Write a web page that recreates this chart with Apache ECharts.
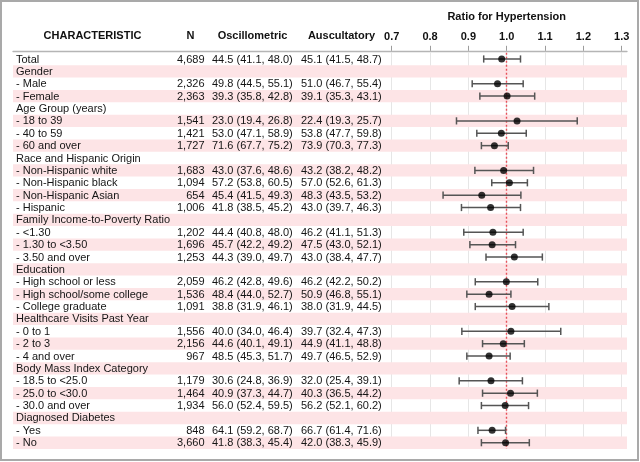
<!DOCTYPE html>
<html><head><meta charset="utf-8">
<script src="https://cdn.jsdelivr.net/npm/echarts@6/dist/echarts.min.js"></script>
<style>html,body{margin:0;padding:0;background:#fff}#c{width:640px;height:462px}</style>
</head><body><div id="c"></div>
<script>
// ---------- data ----------
const labels = ['Total','Gender','- Male','- Female','Age Group (years)','- 18 to 39','- 40 to 59','- 60 and over',
 'Race and Hispanic Origin','- Non-Hispanic white','- Non-Hispanic black','- Non-Hispanic Asian','- Hispanic',
 'Family Income-to-Poverty Ratio','- <1.30','- 1.30 to <3.50','- 3.50 and over',
 'Education','- High school or less','- High school/some college','- College graduate',
 'Healthcare Visits Past Year','- 0 to 1','- 2 to 3','- 4 and over',
 'Body Mass Index Category','- 18.5 to <25.0','- 25.0 to <30.0','- 30.0 and over',
 'Diagnosed Diabetes','- Yes','- No'];
const nVals = ['4,689',null,'2,326','2,363',null,'1,541','1,421','1,727',null,'1,683','1,094','654','1,006',
 null,'1,202','1,696','1,253',null,'2,059','1,536','1,091',null,'1,556','2,156','967',null,'1,179','1,464','1,934',null,'848','3,660'];
const oscEst = [44.5,null,49.8,39.3,null,23.0,53.0,71.6,null,43.0,57.2,45.4,41.8,null,44.4,45.7,44.3,null,46.2,48.4,38.8,null,40.0,44.6,48.5,null,30.6,40.9,56.0,null,64.1,41.8];
const oscLo  = [41.1,null,44.5,35.8,null,19.4,47.1,67.7,null,37.6,53.8,41.5,38.5,null,40.8,42.2,39.0,null,42.8,44.0,31.9,null,34.0,40.1,45.3,null,24.8,37.3,52.4,null,59.2,38.3];
const oscHi  = [48.0,null,55.1,42.8,null,26.8,58.9,75.2,null,48.6,60.5,49.3,45.2,null,48.0,49.2,49.7,null,49.6,52.7,46.1,null,46.4,49.1,51.7,null,36.9,44.7,59.5,null,68.7,45.4];
const ausEst = [45.1,null,51.0,39.1,null,22.4,53.8,73.9,null,43.2,57.0,48.3,43.0,null,46.2,47.5,43.0,null,46.2,50.9,38.0,null,39.7,44.9,49.7,null,32.0,40.3,56.2,null,66.7,42.0];
const ausLo  = [41.5,null,46.7,35.3,null,19.3,47.7,70.3,null,38.2,52.6,43.5,39.7,null,41.1,43.0,38.4,null,42.2,46.8,31.9,null,32.4,41.1,46.5,null,25.4,36.5,52.1,null,61.4,38.3];
const ausHi  = [48.7,null,55.4,43.1,null,25.7,59.8,77.3,null,48.2,61.3,53.2,46.3,null,51.3,52.1,47.7,null,50.2,55.1,44.5,null,47.3,48.8,52.9,null,39.1,44.2,60.2,null,71.6,45.9];
const ratioEst = [0.987,null,0.976,1.001,null,1.027,0.986,0.968,null,0.992,1.007,0.935,0.958,null,0.964,0.962,1.020,null,0.999,0.954,1.014,null,1.011,0.991,0.954,null,0.959,1.010,0.996,null,0.962,0.997];
const ratioLo  = [0.940,null,0.910,0.930,null,0.869,0.922,0.934,null,0.917,0.961,0.834,0.882,null,0.888,0.904,0.946,null,0.918,0.896,0.918,null,0.883,0.937,0.896,null,0.876,0.937,0.934,null,0.925,0.934];
const ratioHi  = [1.036,null,1.043,1.073,null,1.184,1.051,1.004,null,1.070,1.054,1.037,1.036,null,1.043,1.023,1.093,null,1.081,1.011,1.110,null,1.141,1.046,1.009,null,1.041,1.080,1.057,null,0.997,1.059];
const xTicks = [0.7,0.8,0.9,1.0,1.1,1.2,1.3];
const headers = ['CHARACTERISTIC','N','Oscillometric','Auscultatory'];
const axisTitle = 'Ratio for Hypertension';

// ---------- layout / style ----------
const FONT = '"Liberation Sans", Arial, sans-serif';
const TOP = 52.8, BOTTOM = 13.12;
const COL = { label: 16, nRight: 204.5, osc: 212, aus: 301 };
const idx = labels.map((_, i) => i);
const fmt = (e, l, h) => e == null ? '' : e.toFixed(1) + ' (' + l.toFixed(1) + ', ' + h.toFixed(1) + ')';
const colText = [
  { x: COL.label, align: 'left', get: i => labels[i] },
  { x: COL.nRight, align: 'right', get: i => nVals[i] || '' },
  { x: COL.osc, align: 'left', get: i => fmt(oscEst[i], oscLo[i], oscHi[i]) },
  { x: COL.aus, align: 'left', get: i => fmt(ausEst[i], ausLo[i], ausHi[i]) }
];

const textSeries = colText.map(c => ({
  type: 'custom', xAxisIndex: 0, yAxisIndex: 0, silent: true, z: 5,
  data: idx.map(i => [c.x, i]),
  renderItem: (params, api) => {
    const p = api.coord([api.value(0), api.value(1)]);
    return { type: 'text', x: p[0], y: p[1] + 0.5,
      style: { text: c.get(params.dataIndex), fill: '#151515', font: '11px ' + FONT, align: c.align, verticalAlign: 'middle' } };
  }
}));

const barData = [], ptData = [];
idx.forEach(i => { if (ratioEst[i] != null) { barData.push([ratioLo[i], ratioHi[i], i]); ptData.push([ratioEst[i], i]); } });

const hdr = (text, x, y) => ({ type: 'text', x, y, style: { text, font: 'bold 11px ' + FONT, fill: '#111', align: 'center', verticalAlign: 'middle' } });

const option = {
  animation: false,
  grid: [
    { left: 13, right: 13, top: TOP, bottom: BOTTOM },
    { left: 391.7, right: 18.3, top: TOP, bottom: BOTTOM }
  ],
  xAxis: [
    { gridIndex: 0, type: 'value', min: 13, max: 627, position: 'top', offset: 2,
      axisLine: { show: true, lineStyle: { color: '#b5b5b5', width: 1.3 } },
      axisTick: { show: false }, axisLabel: { show: false }, splitLine: { show: false } },
    { gridIndex: 1, type: 'value', min: xTicks[0], max: xTicks[xTicks.length - 1], interval: 0.1, position: 'top', offset: 2,
      axisLine: { show: false },
      axisTick: { show: true, length: 5, lineStyle: { color: '#9c9c9c', width: 1 } },
      axisLabel: { show: true, margin: 8, fontFamily: FONT, fontSize: 11, fontWeight: 'bold', color: '#111',
        formatter: v => v.toFixed(1) },
      splitLine: { show: true, lineStyle: { color: '#e6e6e6', width: 1 } } }
  ],
  yAxis: [
    { gridIndex: 0, type: 'category', inverse: true, data: idx, show: false },
    { gridIndex: 1, type: 'category', inverse: true, data: idx, show: false }
  ],
  graphic: [
    hdr(headers[0], 92.5, 36), hdr(headers[1], 190.5, 36), hdr(headers[2], 252.5, 36), hdr(headers[3], 341.5, 36),
    hdr(axisTitle, 506.7, 17),
    { type: 'rect', shape: { x: 1, y: 1, width: 637, height: 459 }, style: { fill: 'none', stroke: '#a9a9a9', lineWidth: 2 }, silent: true, z: 100 }
  ],
  series: [
    { type: 'bar', xAxisIndex: 0, yAxisIndex: 0, silent: true, z: 0, barCategoryGap: '0%', clip: true,
      itemStyle: { color: '#fde4e6' },
      data: idx.map(i => i % 2 === 1 ? 627 : '-') },
    ...textSeries,
    { type: 'custom', xAxisIndex: 1, yAxisIndex: 1, silent: true, z: 6,
      encode: { x: [0, 1], y: 2 }, data: barData,
      renderItem: (params, api) => {
        const a = api.coord([api.value(0), api.value(2)]);
        const b = api.coord([api.value(1), api.value(2)]);
        const st = { stroke: '#555', lineWidth: 1.5 };
        return { type: 'group', children: [
          { type: 'line', shape: { x1: a[0], y1: a[1], x2: b[0], y2: b[1] }, style: st },
          { type: 'line', shape: { x1: a[0], y1: a[1] - 3.6, x2: a[0], y2: a[1] + 3.6 }, style: st },
          { type: 'line', shape: { x1: b[0], y1: b[1] - 3.6, x2: b[0], y2: b[1] + 3.6 }, style: st }
        ] };
      } },
    { type: 'scatter', xAxisIndex: 1, yAxisIndex: 1, silent: true, z: 8, symbol: 'circle', symbolSize: 7,
      itemStyle: { color: '#000' }, data: ptData,
      markLine: { silent: true, symbol: 'none', label: { show: false }, animation: false,
        lineStyle: { color: '#e8505a', type: [2, 2], width: 1.4 },
        data: [{ xAxis: 1.0 }] } }
  ]
};
const chart = echarts.init(document.getElementById('c'), null, { renderer: 'canvas' });
chart.setOption(option);
</script></body></html>
